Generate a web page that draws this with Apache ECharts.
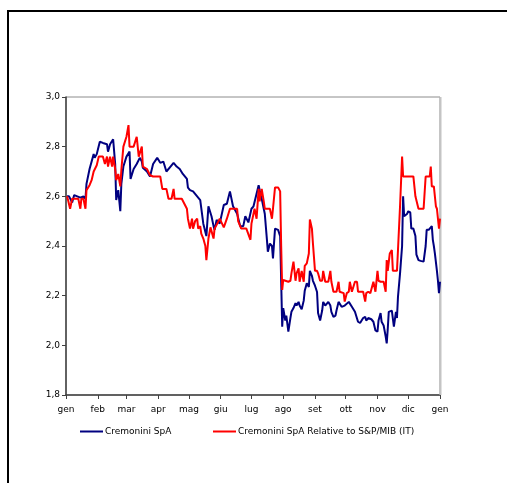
<!DOCTYPE html>
<html>
<head>
<meta charset="utf-8">
<script src="https://cdn.jsdelivr.net/npm/echarts@6/dist/echarts.min.js"></script>
<style>
  html, body { margin: 0; padding: 0; background: #fff; }
  #chart { width: 507px; height: 483px; }
</style>
</head>
<body>
<div id="chart"></div>
<script>
// Month abbreviations shown on the x axis (Italian)
const monthNames = ['gen', 'feb', 'mar', 'apr', 'mag', 'giu', 'lug', 'ago', 'set', 'ott', 'nov', 'dic'];

// Y axis ticks
const yTicks = [1.8, 2.0, 2.2, 2.4, 2.6, 2.8, 3.0];

const seriesNames = ['Cremonini SpA', 'Cremonini SpA Relative to S&P/MIB (IT)'];

// Cremonini SpA share price (EUR)
const priceDates = [
  '2007-01-02','2007-01-04','2007-01-07','2007-01-09','2007-01-12','2007-01-15','2007-01-18','2007-01-20','2007-01-21','2007-01-24',
  '2007-01-28','2007-01-29','2007-01-31','2007-02-03','2007-02-06','2007-02-10','2007-02-11','2007-02-13','2007-02-16','2007-02-17',
  '2007-02-18','2007-02-19','2007-02-21','2007-02-23','2007-02-24','2007-02-26','2007-03-01','2007-03-04','2007-03-05','2007-03-08',
  '2007-03-11','2007-03-14','2007-03-16','2007-03-17','2007-03-21','2007-03-24','2007-03-27','2007-03-31','2007-04-03','2007-04-06',
  '2007-04-09','2007-04-13','2007-04-16','2007-04-19','2007-04-22','2007-04-25','2007-04-29','2007-04-30','2007-05-02','2007-05-05',
  '2007-05-09','2007-05-12','2007-05-15','2007-05-18','2007-05-20','2007-05-23','2007-05-25','2007-05-26','2007-05-28','2007-05-31',
  '2007-06-04','2007-06-07','2007-06-10','2007-06-13','2007-06-17','2007-06-20','2007-06-23','2007-06-25','2007-06-28','2007-07-01',
  '2007-07-03','2007-07-04','2007-07-08','2007-07-09','2007-07-11','2007-07-14','2007-07-16','2007-07-17','2007-07-19','2007-07-21',
  '2007-07-22','2007-07-24','2007-07-27','2007-07-29','2007-07-31','2007-08-01','2007-08-03','2007-08-04','2007-08-06','2007-08-08',
  '2007-08-09','2007-08-11','2007-08-13','2007-08-14','2007-08-16','2007-08-17','2007-08-19','2007-08-21','2007-08-22','2007-08-24',
  '2007-08-26','2007-08-27','2007-08-29','2007-08-30','2007-09-01','2007-09-03','2007-09-04','2007-09-06','2007-09-08','2007-09-09',
  '2007-09-11','2007-09-12','2007-09-14','2007-09-16','2007-09-17','2007-09-19','2007-09-21','2007-09-22','2007-09-24','2007-09-27',
  '2007-09-30','2007-10-04','2007-10-07','2007-10-10','2007-10-13','2007-10-15','2007-10-18','2007-10-20','2007-10-21','2007-10-23',
  '2007-10-26','2007-10-28','2007-10-30','2007-11-01','2007-11-02','2007-11-04','2007-11-05','2007-11-07','2007-11-09','2007-11-10',
  '2007-11-11','2007-11-12','2007-11-13','2007-11-15','2007-11-16','2007-11-17','2007-11-19','2007-11-20','2007-11-21','2007-11-23',
  '2007-11-25','2007-11-26','2007-11-27','2007-11-30','2007-12-01','2007-12-03','2007-12-04','2007-12-06','2007-12-08','2007-12-09',
  '2007-12-11','2007-12-13','2007-12-16','2007-12-18','2007-12-19','2007-12-21','2007-12-22','2007-12-24','2007-12-25','2007-12-26',
  '2007-12-27','2007-12-29','2007-12-30','2007-12-31','2008-01-01'
];
const priceValues = [
  2.60, 2.60, 2.575, 2.605, 2.60, 2.595, 2.60, 2.59, 2.65, 2.71,
  2.77, 2.755, 2.77, 2.82, 2.815, 2.81, 2.78, 2.81, 2.83, 2.83,
  2.73, 2.585, 2.625, 2.54, 2.65, 2.72, 2.76, 2.78, 2.67, 2.71,
  2.73, 2.755, 2.74, 2.715, 2.70, 2.68, 2.73, 2.755, 2.735, 2.74,
  2.70, 2.72, 2.735, 2.72, 2.71, 2.69, 2.67, 2.635, 2.625, 2.62,
  2.60, 2.585, 2.49, 2.44, 2.56, 2.52, 2.48, 2.465, 2.505, 2.49,
  2.565, 2.57, 2.62, 2.56, 2.53, 2.48, 2.48, 2.52, 2.495, 2.55,
  2.56, 2.56, 2.645, 2.625, 2.59, 2.53, 2.43, 2.377, 2.41, 2.40,
  2.35, 2.47, 2.465, 2.44, 2.075, 2.15, 2.10, 2.12, 2.055, 2.11,
  2.135, 2.15, 2.17, 2.16, 2.175, 2.16, 2.145, 2.18, 2.22, 2.25,
  2.235, 2.30, 2.28, 2.26, 2.24, 2.215, 2.13, 2.10, 2.14, 2.175,
  2.16, 2.155, 2.175, 2.16, 2.135, 2.115, 2.12, 2.14, 2.175, 2.155,
  2.16, 2.175, 2.155, 2.135, 2.095, 2.09, 2.11, 2.115, 2.10, 2.11,
  2.105, 2.095, 2.06, 2.055, 2.10, 2.13, 2.095, 2.08, 2.035, 2.008,
  2.065, 2.135, 2.14, 2.14, 2.135, 2.075, 2.135, 2.11, 2.196, 2.29,
  2.40, 2.60, 2.52, 2.53, 2.54, 2.535, 2.47, 2.47, 2.44, 2.365,
  2.343, 2.34, 2.337, 2.40, 2.465, 2.465, 2.47, 2.48, 2.425, 2.40,
  2.37, 2.30, 2.26, 2.21, 2.256
];

// Price relative to the S&P/MIB index (rebased)
const relDates = [
  '2007-01-02','2007-01-03','2007-01-05','2007-01-07','2007-01-10','2007-01-13','2007-01-15','2007-01-16','2007-01-18','2007-01-20',
  '2007-01-21','2007-01-24','2007-01-26','2007-01-28','2007-01-31','2007-02-02','2007-02-06','2007-02-08','2007-02-10','2007-02-11',
  '2007-02-13','2007-02-15','2007-02-16','2007-02-18','2007-02-19','2007-02-21','2007-02-23','2007-02-24','2007-02-26','2007-03-01',
  '2007-03-03','2007-03-04','2007-03-08','2007-03-11','2007-03-13','2007-03-14','2007-03-16','2007-03-17','2007-03-21','2007-03-24',
  '2007-03-27','2007-04-03','2007-04-05','2007-04-09','2007-04-11','2007-04-14','2007-04-16','2007-04-17','2007-04-24','2007-04-25',
  '2007-04-29','2007-04-30','2007-05-02','2007-05-04','2007-05-05','2007-05-07','2007-05-09','2007-05-10','2007-05-12','2007-05-13',
  '2007-05-15','2007-05-17','2007-05-18','2007-05-20','2007-05-22','2007-05-23','2007-05-25','2007-05-26','2007-05-28','2007-05-31',
  '2007-06-04','2007-06-07','2007-06-10','2007-06-17','2007-06-18','2007-06-21','2007-06-26','2007-06-30','2007-07-01','2007-07-04',
  '2007-07-06','2007-07-08','2007-07-09','2007-07-11','2007-07-13','2007-07-14','2007-07-19','2007-07-21','2007-07-22','2007-07-24',
  '2007-07-27','2007-07-29','2007-07-30','2007-07-31','2007-08-01','2007-08-06','2007-08-08','2007-08-09','2007-08-11','2007-08-13',
  '2007-08-14','2007-08-16','2007-08-17','2007-08-19','2007-08-21','2007-08-22','2007-08-24','2007-08-26','2007-08-27','2007-08-29',
  '2007-08-30','2007-09-01','2007-09-03','2007-09-04','2007-09-06','2007-09-08','2007-09-09','2007-09-11','2007-09-14','2007-09-16',
  '2007-09-17','2007-09-19','2007-09-22','2007-09-24','2007-09-25','2007-09-29','2007-09-30','2007-10-02','2007-10-04','2007-10-05',
  '2007-10-07','2007-10-10','2007-10-12','2007-10-13','2007-10-18','2007-10-20','2007-10-21','2007-10-23','2007-10-25','2007-10-26',
  '2007-10-28','2007-10-30','2007-11-01','2007-11-02','2007-11-04','2007-11-05','2007-11-07','2007-11-09','2007-11-10','2007-11-11',
  '2007-11-13','2007-11-15','2007-11-16','2007-11-18','2007-11-20','2007-11-21','2007-11-23','2007-11-25','2007-11-26','2007-11-27',
  '2007-12-06','2007-12-08','2007-12-09','2007-12-11','2007-12-16','2007-12-18','2007-12-22','2007-12-23','2007-12-24','2007-12-26',
  '2007-12-27','2007-12-28','2007-12-29','2007-12-30','2007-12-31','2008-01-01'
];
const relValues = [
  2.60, 2.585, 2.55, 2.59, 2.59, 2.59, 2.55, 2.59, 2.59, 2.55,
  2.625, 2.645, 2.665, 2.70, 2.725, 2.76, 2.76, 2.73, 2.76, 2.72,
  2.76, 2.72, 2.76, 2.71, 2.665, 2.69, 2.64, 2.705, 2.80, 2.84,
  2.887, 2.80, 2.80, 2.84, 2.76, 2.76, 2.80, 2.72, 2.71, 2.685,
  2.68, 2.68, 2.63, 2.63, 2.59, 2.59, 2.63, 2.59, 2.59, 2.585,
  2.55, 2.51, 2.47, 2.51, 2.47, 2.50, 2.51, 2.47, 2.48, 2.45,
  2.43, 2.40, 2.343, 2.43, 2.475, 2.47, 2.43, 2.47, 2.485, 2.51,
  2.475, 2.51, 2.55, 2.55, 2.50, 2.47, 2.47, 2.425, 2.49, 2.55,
  2.51, 2.63, 2.58, 2.63, 2.58, 2.55, 2.55, 2.51, 2.55, 2.636,
  2.636, 2.62, 2.40, 2.223, 2.263, 2.256, 2.26, 2.29, 2.337, 2.26,
  2.29, 2.31, 2.256, 2.30, 2.256, 2.32, 2.33, 2.37, 2.507, 2.47,
  2.41, 2.30, 2.30, 2.29, 2.26, 2.26, 2.30, 2.256, 2.256, 2.30,
  2.256, 2.216, 2.216, 2.256, 2.216, 2.21, 2.176, 2.21, 2.216, 2.256,
  2.216, 2.256, 2.256, 2.216, 2.216, 2.176, 2.21, 2.216, 2.21, 2.216,
  2.256, 2.216, 2.30, 2.26, 2.256, 2.256, 2.256, 2.216, 2.343, 2.30,
  2.37, 2.384, 2.30, 2.30, 2.30, 2.384, 2.56, 2.76, 2.68, 2.68,
  2.68, 2.60, 2.595, 2.55, 2.55, 2.68, 2.68, 2.72, 2.64, 2.64,
  2.64, 2.56, 2.55, 2.55, 2.47, 2.51
];

// Every calendar day of the year (plus the following 1 January) forms the x axis
function pad(n) { return n < 10 ? '0' + n : '' + n; }
const days = [];
for (let t = Date.UTC(2007, 0, 1); t <= Date.UTC(2008, 0, 1); t += 86400000) {
  const d = new Date(t);
  days.push(d.getUTCFullYear() + '-' + pad(d.getUTCMonth() + 1) + '-' + pad(d.getUTCDate()));
}
function toAxisData(dates, values) {
  const lookup = new Map();
  dates.forEach((d, i) => lookup.set(d, values[i]));
  return days.map(d => lookup.has(d) ? lookup.get(d) : null);
}
const isMonthStart = (idx, value) => value.slice(8) === '01';

const chart = echarts.init(document.getElementById('chart'), null, { renderer: 'canvas' });
const font = 'DejaVu Sans';
const legendText = { fontFamily: font, fontSize: 9, color: '#000', padding: [0, 0, 0, -3] };

chart.setOption({
  animation: false,
  backgroundColor: '#ffffff',
  graphic: [
    {
      // outer frame (its right and bottom edges run past the canvas)
      type: 'rect',
      shape: { x: 8, y: 11, width: 560, height: 520 },
      style: { fill: 'none', stroke: '#000000', lineWidth: 2 },
      z: 0
    },
    {
      // light double edge on the right of the plot area
      type: 'line',
      shape: { x1: 440.5, y1: 97, x2: 440.5, y2: 395 },
      style: { stroke: '#c4c4c4', lineWidth: 2 },
      z: 1
    }
  ],
  grid: {
    left: 66, right: 67, top: 97, bottom: 88,
    show: true,
    borderColor: '#8c8c8c',
    borderWidth: 1,
    backgroundColor: 'transparent'
  },
  legend: [
    {
      data: [seriesNames[0]],
      left: 80, top: 427, padding: 0,
      icon: 'rect', itemWidth: 23, itemHeight: 2,
      textStyle: legendText
    },
    {
      data: [seriesNames[1]],
      left: 213, top: 427, padding: 0,
      icon: 'rect', itemWidth: 23, itemHeight: 2,
      textStyle: legendText
    }
  ],
  xAxis: {
    type: 'category',
    data: days,
    boundaryGap: false,
    axisLine: { show: true, lineStyle: { color: '#404040', width: 1.5 } },
    axisTick: { show: true, inside: false, length: 4, interval: isMonthStart, lineStyle: { color: '#404040' } },
    axisLabel: {
      interval: isMonthStart,
      margin: 10,
      fontFamily: font, fontSize: 9, color: '#000',
      formatter: v => monthNames[parseInt(v.slice(5, 7), 10) - 1]
    },
    splitLine: { show: false }
  },
  yAxis: {
    type: 'value',
    min: yTicks[0],
    max: yTicks[yTicks.length - 1],
    interval: 0.2,
    axisLine: { show: true, lineStyle: { color: '#404040', width: 1.5 } },
    axisTick: { show: true, inside: false, length: 4, lineStyle: { color: '#404040' } },
    axisLabel: {
      margin: 6,
      fontFamily: font, fontSize: 9, color: '#000',
      formatter: v => v.toFixed(1).replace('.', ',')
    },
    splitLine: { show: false }
  },
  series: [
    {
      name: seriesNames[0],
      type: 'line',
      data: toAxisData(priceDates, priceValues),
      connectNulls: true,
      symbol: 'none',
      lineStyle: { color: '#000080', width: 2 },
      itemStyle: { color: '#000080' }
    },
    {
      name: seriesNames[1],
      type: 'line',
      data: toAxisData(relDates, relValues),
      connectNulls: true,
      symbol: 'none',
      lineStyle: { color: '#ff0000', width: 2 },
      itemStyle: { color: '#ff0000' }
    }
  ]
});
</script>
</body>
</html>
